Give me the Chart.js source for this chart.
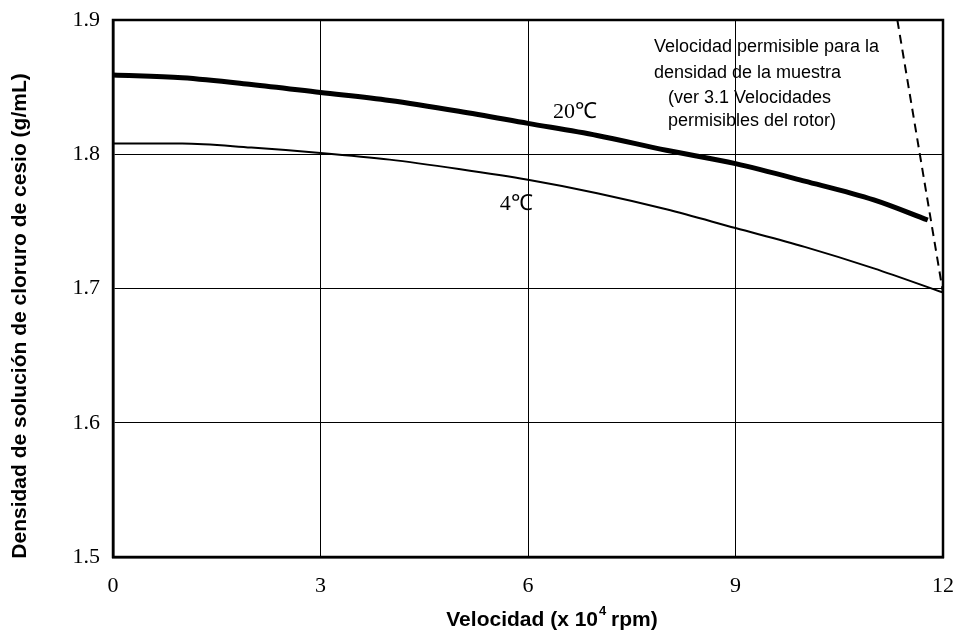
<!DOCTYPE html>
<html>
<head>
<meta charset="utf-8">
<script src="https://cdn.jsdelivr.net/npm/chart.js@4.4.1/dist/chart.umd.min.js"></script>
<style>
  body { margin: 0; background: #fff; }
  canvas { display: block; }
</style>
</head>
<body>
<canvas id="myChart" width="962" height="640"></canvas>
<script>
// datos
const speedTicks = [0, 3, 6, 9, 12];
const densityTicks = [1.5, 1.6, 1.7, 1.8, 1.9];

const speed20 = [0, 1, 2, 3, 4, 5, 6, 7, 8, 9, 10, 11, 11.78];
const density20 = [1.859, 1.857, 1.852, 1.846, 1.840, 1.832, 1.823, 1.814, 1.803, 1.793, 1.780, 1.766, 1.751];

const speed4 = [0, 1, 2, 3, 4, 5, 6, 7, 8, 9, 10, 11, 12];
const density4 = [1.808, 1.808, 1.805, 1.801, 1.796, 1.789, 1.781, 1.771, 1.759, 1.745, 1.731, 1.715, 1.697];

const limitSpeed = [11.34, 12];
const limitDensity = [1.9, 1.697];

const seriesLabels = ['20℃', '4℃'];
const noteLines = ['Velocidad permisible para la', 'densidad de la muestra', '(ver 3.1 Velocidades', 'permisibles del rotor)'];
const yTitle = 'Densidad de solución de cloruro de cesio (g/mL)';

function toPoints(xs, ys) {
  return xs.map((x, i) => ({ x: x, y: ys[i] }));
}

const extras = {
  id: 'extras',
  afterDraw(chart) {
    const c = chart.ctx;
    const a = chart.chartArea;
    const sx = chart.scales.x, sy = chart.scales.y;
    c.save();
    // marco
    c.strokeStyle = '#000';
    c.lineWidth = 2.5;
    c.strokeRect(a.left, a.top, a.right - a.left, a.bottom - a.top);

    // etiquetas de curvas
    c.fillStyle = '#000';
    c.font = '22px "Liberation Serif", serif';
    c.textAlign = 'center';
    c.textBaseline = 'middle';
    c.fillText(seriesLabels[0], sx.getPixelForValue(6.68), sy.getPixelForValue(1.831));
    c.fillText(seriesLabels[1], sx.getPixelForValue(5.83), sy.getPixelForValue(1.763));

    // nota
    c.font = '18px "Liberation Sans", Arial, sans-serif';
    c.textAlign = 'left';
    const noteX = [654, 654, 668, 668];
    const noteY = [47, 73, 98, 121];
    noteLines.forEach((t, i) => c.fillText(t, noteX[i], noteY[i]));

    // titulos de ejes
    const big = 'bold 21px "Liberation Sans", Arial, sans-serif';
    const small = 'bold 13px "Liberation Sans", Arial, sans-serif';
    const p1 = 'Velocidad (x 10', p2 = '4', p3 = ' rpm)';
    c.font = big;
    const w1 = c.measureText(p1).width;
    const w3 = c.measureText(p3).width;
    c.font = small;
    const w2 = c.measureText(p2).width;
    const total = w1 + w2 + w3;
    let tx = 552 - total / 2;
    const ty = 620;
    c.textAlign = 'left';
    c.font = big;
    c.fillText(p1, tx, ty);
    c.font = small;
    c.fillText(p2, tx + w1 + 1, ty - 9);
    c.font = big;
    c.fillText(p3, tx + w1 + w2, ty);

    c.translate(20, 316);
    c.rotate(-Math.PI / 2);
    c.textAlign = 'center';
    c.fillText(yTitle, 0, 0);
    c.restore();
  }
};

let ctx = document.getElementById('myChart').getContext('2d');
let chart = new Chart(ctx, {
  type: 'line',
  data: {
    datasets: [{
      label: seriesLabels[0],
      data: toPoints(speed20, density20),
      borderColor: '#000',
      borderWidth: 5,
      pointRadius: 0,
      cubicInterpolationMode: 'monotone'
    }, {
      label: seriesLabels[1],
      data: toPoints(speed4, density4),
      borderColor: '#000',
      borderWidth: 2,
      pointRadius: 0,
      cubicInterpolationMode: 'monotone'
    }, {
      label: 'Velocidad permisible',
      data: toPoints(limitSpeed, limitDensity),
      borderColor: '#000',
      borderWidth: 2,
      borderDash: [9, 6],
      pointRadius: 0
    }]
  },
  options: {
    responsive: false,
    animation: false,
    layout: { padding: { top: 20, right: 19, left: 0, bottom: 0 } },
    plugins: { legend: { display: false }, tooltip: { enabled: false } },
    scales: {
      x: {
        type: 'linear',
        min: 0, max: 12,
        afterBuildTicks: (s) => { s.ticks = speedTicks.map(v => ({ value: v })); },
        afterFit: (s) => { s.height = 83; s.paddingLeft = 0; s.paddingRight = 0; },
        grid: { color: '#000', lineWidth: 1, drawTicks: false },
        border: { color: '#000', width: 2.5 },
        ticks: {
          padding: 16,
          color: '#000',
          font: { family: '"Liberation Serif", serif', size: 22 },
          callback: (v) => String(v)
        }
      },
      y: {
        min: 1.5, max: 1.9,
        afterBuildTicks: (s) => { s.ticks = densityTicks.map(v => ({ value: v })); },
        afterFit: (s) => { s.width = 113; s.paddingTop = 0; s.paddingBottom = 0; },
        grid: { color: '#000', lineWidth: 1, drawTicks: false },
        border: { color: '#000', width: 2.5 },
        ticks: {
          padding: 13,
          color: '#000',
          font: { family: '"Liberation Serif", serif', size: 22 },
          callback: (v) => Number(v).toFixed(1)
        }
      }
    }
  },
  plugins: [extras]
});
</script>
</body>
</html>
